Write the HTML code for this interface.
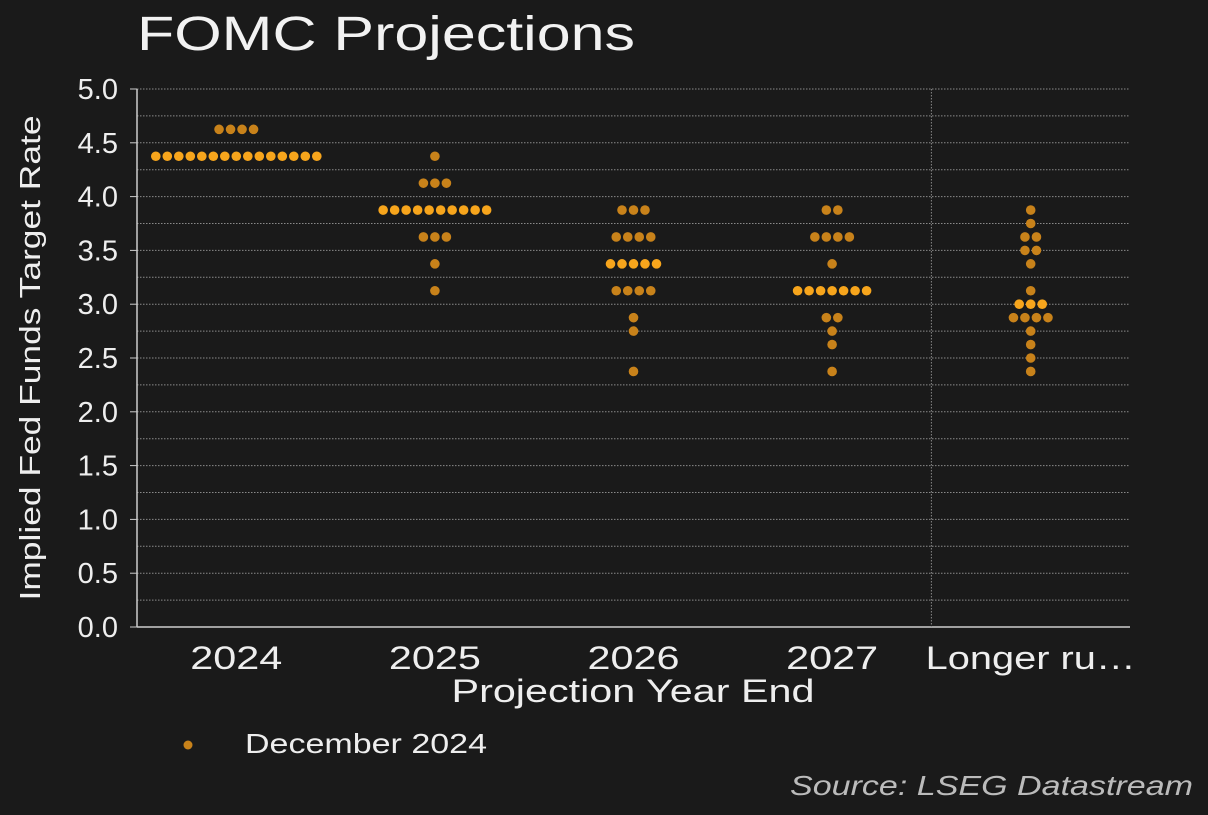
<!DOCTYPE html>
<html><head><meta charset="utf-8"><style>
html,body{margin:0;padding:0;background:#1a1a1a;}
svg{display:block;font-family:"Liberation Sans",sans-serif;}
</style></head><body>
<svg id="c" width="1208" height="815">
<rect width="1208" height="815" fill="#1a1a1a"/>
<text x="137" y="50" fill="#f2f2f2" font-size="48" textLength="498" lengthAdjust="spacingAndGlyphs">FOMC Projections</text>
<g id="grid"></g><g id="dots"></g>
<text transform="translate(40,358) rotate(-90)" text-anchor="middle" fill="#eee" font-size="29" textLength="485" lengthAdjust="spacingAndGlyphs">Implied Fed Funds Target Rate</text>
<text x="633" y="702" text-anchor="middle" fill="#eee" font-size="32" textLength="363" lengthAdjust="spacingAndGlyphs">Projection Year End</text>
<circle cx="188" cy="745" r="4.5" fill="#c8821a"/>
<text x="245" y="753" fill="#eee" font-size="28" textLength="242" lengthAdjust="spacingAndGlyphs">December 2024</text>
<text x="1193" y="795" text-anchor="end" fill="#bbb" font-size="28" font-style="italic" textLength="403" lengthAdjust="spacingAndGlyphs">Source: LSEG Datastream</text>
</svg>
<script>
const categories=["2024","2025","2026","2027","Longer ru…"];
const yTicks=[0,0.5,1,1.5,2,2.5,3,3.5,4,4.5,5];
const rates2024=[4.625,4.375];const counts2024=[4,15];
const rates2025=[4.375,4.125,3.875,3.625,3.375,3.125];const counts2025=[1,3,10,3,1,1];
const rates2026=[3.875,3.625,3.375,3.125,2.875,2.75,2.375];const counts2026=[3,4,5,4,1,1,1];
const rates2027=[3.875,3.625,3.375,3.125,2.875,2.75,2.625,2.375];const counts2027=[2,4,1,7,2,1,1,1];
const ratesLR=[3.875,3.75,3.625,3.5,3.375,3.125,3.0,2.875,2.75,2.625,2.5,2.375];const countsLR=[1,1,2,2,1,1,3,4,1,1,1,1];
const medians=[4.375,3.875,3.375,3.125,3.0];
const ns="http://www.w3.org/2000/svg";
const X0=137,X1=1130,Y0=627,Y1=89;
const y=v=>Y0-(v/5)*(Y0-Y1);
const x=i=>X0+(i+0.5)*(X1-X0)/categories.length;
function mk(t,a,p){const e=document.createElementNS(ns,t);for(const k in a)e.setAttribute(k,a[k]);p.appendChild(e);return e;}
const g=document.getElementById('grid'),d=document.getElementById('dots');
for(let v=0.25;v<=5.001;v+=0.25){const l=mk('line',{x1:X0,x2:X1,y1:y(v),y2:y(v),stroke:'#8a8a8a','stroke-width':1,'stroke-dasharray':'1.5,1.5'},g);

}
yTicks.forEach(v=>{const t=mk('text',{x:118,y:y(v)+10,'text-anchor':'end',fill:'#eee','font-size':29},g);t.textContent=v.toFixed(1);


const tk=mk('line',{x1:130,x2:X0,y1:y(v),y2:y(v),stroke:'#ccc'},g);

});
const ax=mk('line',{x1:X0,x2:X0,y1:Y1,y2:Y0,stroke:'#ccc','stroke-width':1.5},g);


const bx=mk('line',{x1:X0,x2:X1,y1:Y0,y2:Y0,stroke:'#ccc','stroke-width':1.5},g);


const sep=(x(3)+x(4))/2;
const sl=mk('line',{x1:sep,x2:sep,y1:Y1,y2:Y0,stroke:'#888','stroke-dasharray':'1.5,1.5'},g);


categories.forEach((c,i)=>{const t=mk('text',{x:x(i),y:669,'text-anchor':'middle',fill:'#eee','font-size':32,textLength:i===4?210:92,lengthAdjust:'spacingAndGlyphs'},g);t.textContent=c;

});
const series=[[rates2024,counts2024],[rates2025,counts2025],[rates2026,counts2026],[rates2027,counts2027],[ratesLR,countsLR]];
series.forEach(([r,n],i)=>{r.forEach((v,j)=>{const k=n[j];for(let m=0;m<k;m++){
const cx=x(i)+(m-(k-1)/2)*11.5;
const c=mk('circle',{cx:cx,cy:y(v),r:4.8,fill:v===medians[i]?'#f7a51c':'#c8821a'},d);

}});});
</script>
</body></html>
